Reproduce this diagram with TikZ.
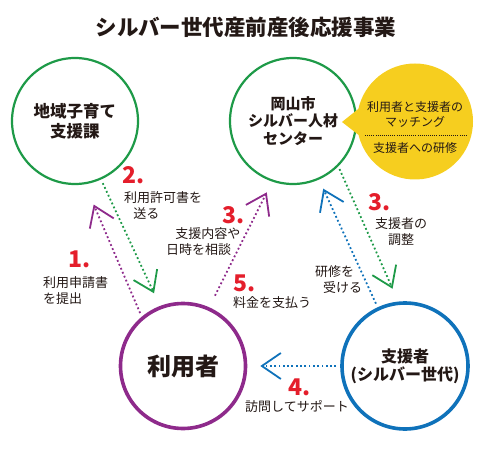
\documentclass[tikz,border=0pt]{standalone}
\usepackage{fontspec}
\setmainfont{Noto Sans CJK JP}
\usetikzlibrary{arrows.meta, positioning, shapes.callouts}
\definecolor{verdecentro}{HTML}{1E9A48}
\definecolor{moradousuario}{HTML}{8E2A8B}
\definecolor{azulapoyo}{HTML}{0F72BA}
\definecolor{amarilloburbuja}{HTML}{F6CE1F}
\definecolor{rojopaso}{HTML}{E41E2B}
\definecolor{negrotexto}{HTML}{231815}
\colorlet{colOficina}{verdecentro}
\colorlet{colUsuario}{moradousuario}
\colorlet{colApoyo}{azulapoyo}
\colorlet{colBurbuja}{amarilloburbuja}
\colorlet{colNumero}{rojopaso}
\colorlet{colTexto}{negrotexto}
\tikzset{
  circuloBase/.style={
    circle, draw, inner sep=0pt, align=center, text=colTexto,
    font=\bfseries\fontsize{16.5}{20}\selectfont
  },
  circuloOficina/.style={circuloBase, draw=colOficina, line width=2.2pt,
    minimum size=126pt},
  circuloUsuario/.style={circuloBase, draw=colUsuario, line width=3.6pt,
    minimum size=125pt, font=\bfseries\fontsize{24}{28}\selectfont},
  circuloApoyo/.style={circuloBase, draw=colApoyo, line width=3.6pt,
    minimum size=126pt, font=\bfseries\fontsize{16}{18}\selectfont},
  burbuja/.style={ellipse callout, fill=colBurbuja, inner sep=0pt,
    minimum width=116pt, minimum height=116pt, callout pointer arc=26},
  textoBurbuja/.style={align=center, text=colTexto, inner sep=0pt,
    font=\fontsize{12}{15}\selectfont},
  separador/.style={line width=0.8pt, dash pattern=on 0.8pt off 1.3pt, colTexto},
  flechaPunteada/.style={-{Straight Barb[length=19pt, width=26pt]},
    line width=1.8pt, dash pattern=on 1.8pt off 2.5pt},
  flechaMorada/.style={flechaPunteada, colUsuario},
  flechaVerde/.style={flechaPunteada, colOficina},
  flechaAzul/.style={flechaPunteada, colApoyo},
  numeroPaso/.style={text=colNumero, inner sep=0pt,
    font=\bfseries\fontsize{23}{23}\selectfont},
  etiquetaPaso/.style={text=colTexto, inner sep=0pt, align=left,
    font=\fontsize{13}{16}\selectfont},
  titulo/.style={text=colTexto, inner sep=0pt,
    font=\bfseries\fontsize{21.5}{24}\selectfont},
}

\begin{document}
\begin{tikzpicture}[x=1pt, y=-1pt]
    \useasboundingbox (0,0) rectangle (480,460);
    \node[titulo] (titulo) at (246,27) {シルバー世代産前産後応援事業};

    % circulos
    \node[circuloOficina] (kosodate) at (75,121) {地域子育て\\支援課};
    \node[circuloOficina, font=\bfseries\fontsize{15}{17.5}\selectfont] (centro) at (293,121) {岡山市\\シルバー人材\\センター};
    \node[circuloUsuario] (usuario) at (183,366) {利用者};
    \node[circuloApoyo] (apoyo) at (405,366) {支援者\\(シルバー世代)};

    % burbuja de la centro
    \coordinate (punta) at (342,122);
    \node[burbuja, callout absolute pointer={(punta)}] (burbuja) at (415,121.5) {};
    \node[textoBurbuja] (tareas) at (415,127.5) {利用者と支援者の\\マッチング\\[11pt]支援者への研修};
    \draw[separador] ([xshift=-50pt, yshift=-13.5pt]burbuja.center) -- ([xshift=52pt, yshift=-13.5pt]burbuja.center);

    % flechas
    \draw[flechaMorada, shorten <=4pt, shorten >=22pt] (usuario.130) -- (kosodate.-81);
    \draw[flechaVerde, shorten <=4pt, shorten >=14pt] (kosodate.-66) -- (usuario.111);
    \draw[flechaMorada, shorten <=13pt, shorten >=12pt] (usuario.66) -- (centro.-109);
    \draw[flechaAzul, shorten <=4pt, shorten >=10pt] (apoyo.115) -- (centro.-66);
    \draw[flechaVerde, shorten <=3pt, shorten >=14pt] (centro.-45) -- (apoyo.96);
    \draw[flechaAzul, shorten <=4pt, shorten >=13pt] (apoyo.180) -- (usuario.0);

    % pasos
    \node[numeroPaso] (n1) at (80,259) {1.};
    \node[etiquetaPaso, anchor=west] (t1) at (43,290.5) {利用申請書\\を提出};
    \node[numeroPaso] (n2) at (134,175) {2.};
    \node[etiquetaPaso, anchor=west] (t2) at (124,205) {利用許可書を\\\hspace{0.7em}送る};
    \node[numeroPaso] (n3) at (234,215) {3.};
    \node[etiquetaPaso, anchor=west] (t3) at (166,241.5) {\hspace{0.7em}支援内容や\\日時を相談};
    \node[numeroPaso] (n3b) at (380,202) {3.};
    \node[etiquetaPaso, align=center] (t3b) at (401,231.5) {支援者の\\調整};
    \node[etiquetaPaso, anchor=west] (t6) at (315,280) {研修を\\\hspace{0.6em}受ける};
    \node[numeroPaso] (n5) at (245,283) {5.};
    \node[etiquetaPaso] (t5) at (272,303) {料金を支払う};
    \node[numeroPaso] (n4) at (300,387) {4.};
    \node[etiquetaPaso] (t4) at (297,407) {訪問してサポート};
\end{tikzpicture}
\end{document}
